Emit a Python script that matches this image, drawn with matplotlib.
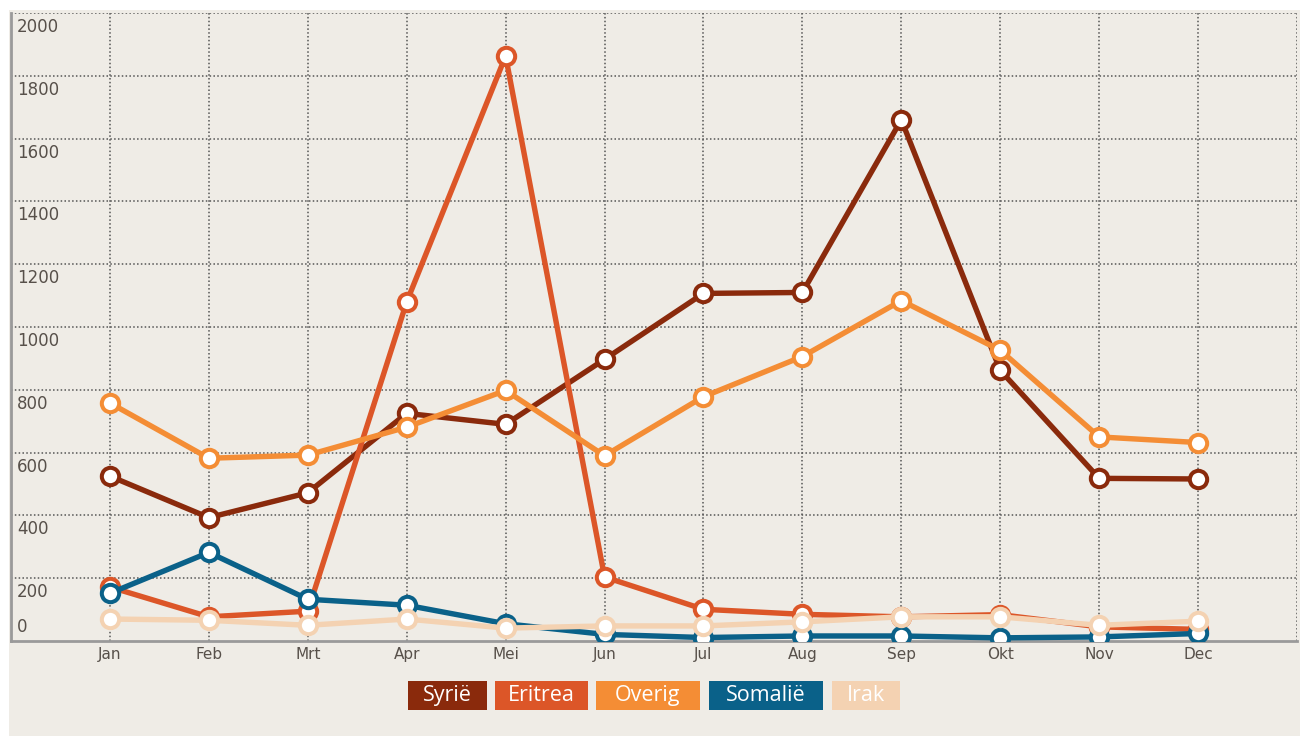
import matplotlib
matplotlib.use("Agg")
import matplotlib.pyplot as plt
from matplotlib.patches import Rectangle

months = ["Jan", "Feb", "Mrt", "Apr", "Mei", "Jun", "Jul", "Aug", "Sep", "Okt", "Nov", "Dec"]
series_names = ["Syrië", "Eritrea", "Overig", "Somalië", "Irak"]
syrie = [525, 393, 472, 725, 690, 897, 1107, 1110, 1660, 862, 518, 516]
eritrea = [172, 77, 95, 1080, 1863, 204, 101, 85, 77, 84, 45, 37]
overig = [758, 582, 592, 681, 798, 590, 778, 906, 1084, 926, 650, 632]
somalie = [152, 282, 133, 114, 55, 21, 11, 16, 16, 10, 13, 24]
irak = [70, 66, 50, 70, 41, 48, 48, 61, 77, 77, 50, 63]
y_ticks = [0, 200, 400, 600, 800, 1000, 1200, 1400, 1600, 1800, 2000]

colors = ["#8a2a0c", "#dc5628", "#f48d35", "#0a6189", "#f4d2b2"]
values = [syrie, eritrea, overig, somalie, irak]
BG = "#efece6"
LABEL = "#57504a"

W, H = 1300, 736
fig = plt.figure(figsize=(W / 100, H / 100), dpi=100, facecolor="white")
fig.add_artist(Rectangle((9 / W, 0), 1 - 9 / W, 1 - 10 / H, transform=fig.transFigure,
                         facecolor=BG, edgecolor="none", zorder=-10))

ax = fig.add_axes([11 / W, 1 - 641 / H, (1297 - 11) / W, (641 - 13) / H])
ax.set_zorder(2)
ax.set_facecolor(BG)
ax.set_xlim(-1, 12)
ax.set_ylim(0, 2000)

grid_kw = dict(color="#555555", lw=1.1, ls=(0, (1, 1.5)), zorder=1)
for v in y_ticks[1:]:
    ax.axhline(v, **grid_kw)
for i in range(len(months)):
    ax.axvline(i, **grid_kw)
ax.axvline(12, **grid_kw)

for s in ["top", "right"]:
    ax.spines[s].set_visible(False)
for s in ["left", "bottom"]:
    ax.spines[s].set_color("#9a9a9a")
    ax.spines[s].set_linewidth(2)

x = list(range(len(months)))
for i, (name, vals, c) in enumerate(zip(series_names, values, colors)):
    ax.plot(x, vals, color=c, lw=3.9, marker="o", ms=12.5, mfc="white", mec=c, mew=2.9,
            zorder=3 + i, solid_joinstyle="round")

ax.set_xticks(x)
ax.set_xticklabels(months, fontsize=11, color=LABEL, family="DejaVu Sans")
ax.tick_params(axis="x", length=0, pad=4)
ax.set_yticks([])

for v in y_ticks:
    if v == 0:
        ax.annotate("0", (0, 0), xycoords=("axes fraction", "data"), xytext=(6, 5),
                    textcoords="offset pixels", ha="left", va="bottom",
                    fontsize=12, color=LABEL, family="DejaVu Sans")
    else:
        ax.annotate(str(v), (0, v), xycoords=("axes fraction", "data"), xytext=(6, -5),
                    textcoords="offset pixels", ha="left", va="top",
                    fontsize=12, color=LABEL, family="DejaVu Sans")

# legend boxes (pixel extents of each box)
box_left = [408, 495, 596, 709, 832]
box_right = [487, 588, 700, 823, 900]
box_top, box_bottom = 681, 710
for name, c, l, r in zip(series_names, colors, box_left, box_right):
    fig.add_artist(Rectangle((l / W, 1 - box_bottom / H), (r - l) / W, (box_bottom - box_top) / H,
                             transform=fig.transFigure, facecolor=c, edgecolor="none", zorder=5))
    fig.text((l + r) / 2 / W, 1 - (box_top + box_bottom) / 2 / H, name, ha="center", va="center",
             fontsize=15.5, color="white", family="Open Sans", zorder=6)

fig.savefig("out.png", dpi=100, facecolor="white")
